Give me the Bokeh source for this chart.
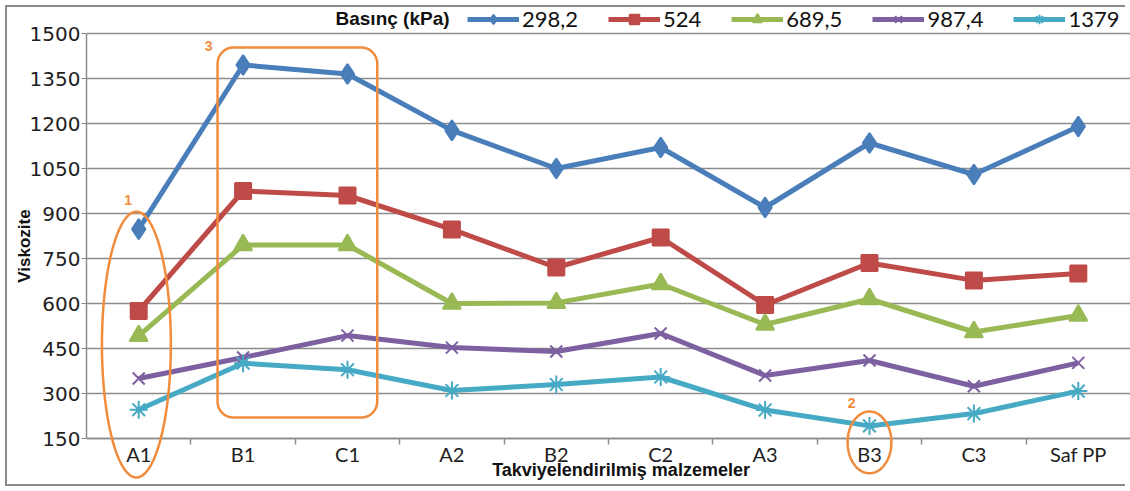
import math
from bokeh.plotting import figure
from bokeh.models import (FactorRange, Range1d, CategoricalAxis, FixedTicker,
                          Legend, LegendItem, Label, BoxAnnotation, PolyAnnotation)
from bokeh.embed import file_html
from bokeh.resources import INLINE

# ---- data ----
categories = ["A1", "B1", "C1", "A2", "B2", "C2", "A3", "B3", "C3", "Saf PP"]
series_names = ["298,2", "524", "689,5", "987,4", "1379"]
p298 = [848, 1395, 1365, 1177, 1050, 1120, 920, 1135, 1030, 1190]
p524 = [575, 975, 960, 847, 720, 820, 595, 735, 677, 700]
p689 = [492, 795, 795, 600, 602, 665, 530, 615, 505, 560]
p987 = [350, 420, 493, 453, 440, 500, 360, 410, 324, 402]
p1379 = [246, 401, 379, 310, 330, 355, 245, 192, 233, 308]
series_values = [p298, p524, p689, p987, p1379]
y_ticks = [150, 300, 450, 600, 750, 900, 1050, 1200, 1350, 1500]
legend_title = "Basınç (kPa)"
x_title = "Takviyelendirilmiş malzemeler"
y_title = "Viskozite"

colors = ["#4A7EBB", "#BE4B48", "#98B954", "#7D60A0", "#46AAC5"]
markers = ["diamond", "square", "triangle", "x", "asterisk"]
msizes = [20, 16, 18, 17, 18]
ORANGE = "#F08C3C"
GRAY = "#8C8C8C"
W, H = 1130, 491

frame_css = ("inset 0 0 0 5px #ffffff, inset 7px 0 0 0 #8a8a8a, "
             "inset 0 7px 0 0 #8a8a8a, inset 0 -7px 0 0 #8a8a8a")

# frame spans the full height; the x axis is pinned at y=150
p = figure(width=W, height=H, x_range=FactorRange(*categories),
           y_range=Range1d(150 - (H - 438) / 0.3, 1610), output_backend="svg",
           toolbar_location=None, x_axis_location=None, min_border_left=86,
           min_border_right=0, min_border_top=0, min_border_bottom=0,
           styles={"box-shadow": frame_css})
p.outline_line_color = None
p.border_fill_alpha = 0
p.background_fill_alpha = 0
p.xgrid.visible = False
p.ygrid.grid_line_color = GRAY
p.ygrid.grid_line_width = 1.5
p.ygrid.ticker = FixedTicker(ticks=y_ticks)

# y axis
ya = p.yaxis[0]
ya.ticker = FixedTicker(ticks=y_ticks)
ya.bounds = (150, 1500)
ya.major_label_text_font = "DejaVu Sans"
ya.major_label_text_font_size = "20px"
ya.major_label_text_color = "#1e1e1e"
ya.major_tick_out = 5
ya.major_tick_in = 0
ya.minor_tick_line_color = None
ya.axis_line_color = GRAY
ya.axis_line_width = 1.5
ya.major_tick_line_color = GRAY
ya.major_label_standoff = 1
ya.axis_label = y_title
ya.axis_label_text_font = "Liberation Sans"
ya.axis_label_text_font_style = "bold"
ya.axis_label_text_font_size = "17px"
ya.axis_label_text_color = "#111111"
ya.axis_label_standoff = -7

# x axis: boundary ticks (on a shifted helper factor range) + category labels
boundaries = ["b%d" % i for i in range(len(categories) + 1)]
p.extra_x_ranges = {"ticks": FactorRange(factors=boundaries, range_padding=-0.5,
                                         range_padding_units="absolute")}
tick_axis = CategoricalAxis(x_range_name="ticks", fixed_location=150,
                            major_label_text_color=None,
                            major_tick_out=6, major_tick_in=0,
                            axis_line_color=GRAY, axis_line_width=1.5,
                            major_tick_line_color=GRAY, major_tick_line_width=1.5,
                            major_label_standoff=0)
p.add_layout(tick_axis, "below")
cat_axis = CategoricalAxis(fixed_location=150, major_tick_line_color=None, axis_line_color=None,
                           major_label_standoff=-3, major_label_text_font="Lato",
                           major_label_text_font_size="20px", major_label_text_color="#1e1e1e")
p.add_layout(cat_axis, "below")

# series
items = []
for name, vals, col, mk, ms in zip(series_names, series_values, colors, markers, msizes):
    lr = p.line(categories, vals, line_color=col, line_width=5, line_join="round")
    sr = p.scatter(categories, vals, marker=mk, size=ms, fill_color=col, line_color=col,
                   line_width=2)
    items.append(LegendItem(label=name, renderers=[lr, sr]))

legend = Legend(items=items, location=(381, H - 32), orientation="horizontal", padding=0,
                margin=0, spacing=30, glyph_width=52, glyph_height=24, label_standoff=3,
                label_text_font="Lato", label_text_font_size="22px",
                label_text_color="#111111", border_line_color=None,
                background_fill_alpha=0)
p.add_layout(legend, "center")
p.add_layout(Label(x=2.385, y=1550, text=legend_title, text_font="Liberation Sans",
                   text_font_style="bold", text_font_size="19px",
                   text_baseline="middle", text_color="#111111"))

# x axis title
p.add_layout(Label(x=5.12, y=45, text=x_title,
                   text_font="Liberation Sans", text_font_style="bold", text_font_size="18px",
                   text_align="center", text_baseline="middle", text_color="#111111"))

# orange annotations
def ellipse_pts(cx, cy, rx, ry, n=90):
    xs = [cx + rx * math.cos(2 * math.pi * k / n) for k in range(n)]
    ys = [cy + ry * math.sin(2 * math.pi * k / n) for k in range(n)]
    return xs, ys

ex, ey = ellipse_pts(0.478, 463, 0.33, 443)
p.add_layout(PolyAnnotation(xs=ex, ys=ey, fill_alpha=0, line_color=ORANGE, line_alpha=1,
                            line_width=2.5))
ex2, ey2 = ellipse_pts(7.50, 137, 0.21, 103)
p.add_layout(PolyAnnotation(xs=ex2, ys=ey2, fill_alpha=0, line_color=ORANGE, line_alpha=1,
                            line_width=2.5))
p.add_layout(BoxAnnotation(left=1.255, right=2.785, top=1453, bottom=220, fill_alpha=0,
                           line_color=ORANGE, line_alpha=1, line_width=2.5,
                           border_radius=16))

for t, lx, ly in [("1", 0.40, 945), ("3", 1.17, 1457), ("2", 7.33, 267)]:
    p.add_layout(Label(x=lx, y=ly, text=t, text_font="Liberation Sans", text_font_style="bold",
                       text_font_size="14px", text_color=ORANGE, text_align="center",
                       text_baseline="middle"))

open("out.html", "w").write(file_html(p, INLINE))
